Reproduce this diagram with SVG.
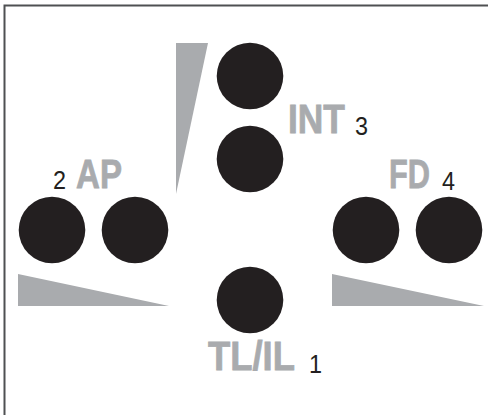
<svg xmlns="http://www.w3.org/2000/svg" width="488" height="415" viewBox="0 0 488 415">
<style>
.dot{fill:#231f20}
.wedge{fill:#a9abae}
.lab{font-family:"Liberation Sans",Arial,sans-serif;font-weight:700;font-size:41px;fill:#a9abae;stroke:#a9abae;stroke-width:.8px}
.num{font-family:"Liberation Sans",Arial,sans-serif;font-size:26px;fill:#231f20}
</style>
<rect width="488" height="415" fill="#fff"/>
<path d="M488 5.500H4.500V415" fill="none" stroke="#4f5052" stroke-width="2"/>
<g id="wedges">
<polygon class="wedge" points="176,43 208,43 176,194"/>
<polygon class="wedge" points="18,274 18,306 169,306"/>
<polygon class="wedge" points="332,274 332,306 484,306"/>
</g>
<g id="node-int">
<circle class="dot" cx="250" cy="76" r="33.300"/>
<circle class="dot" cx="250" cy="159" r="33.300"/>
<text class="lab" transform="translate(288 133) scale(.863 1)">INT</text>
<text class="num" transform="translate(355 135) scale(.9 1)">3</text>
</g>
<g id="node-ap">
<circle class="dot" cx="52" cy="230" r="33.300"/>
<circle class="dot" cx="135" cy="230" r="33.300"/>
<text class="lab" transform="translate(76 188) scale(.807 1)">AP</text>
<text class="num" transform="translate(53 188.500) scale(.9 1)">2</text>
</g>
<g id="node-fd">
<circle class="dot" cx="366" cy="230" r="33.300"/>
<circle class="dot" cx="449" cy="230" r="33.300"/>
<text class="lab" transform="translate(389 188) scale(.75 1)">FD</text>
<text class="num" transform="translate(442 190) scale(.9 1)">4</text>
</g>
<g id="node-tlil">
<circle class="dot" cx="250" cy="300" r="33.300"/>
<text class="lab" transform="translate(208 370) scale(.888 1)">TL/IL</text>
<text class="num" transform="translate(309 372.500) scale(.9 1)">1</text>
</g>
</svg>
